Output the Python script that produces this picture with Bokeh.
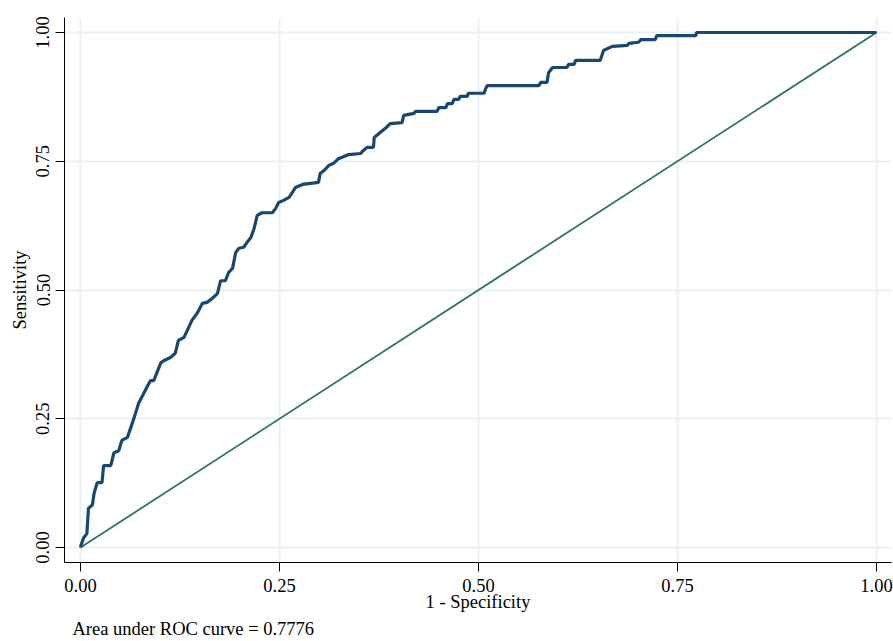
from bokeh.plotting import figure
from bokeh.models import Range1d, FixedTicker, NumeralTickFormatter, Title
from bokeh.embed import file_html
from bokeh.resources import INLINE

# ROC curve vertices (1 - specificity, sensitivity)
fpr = [0.000, 0.001, 0.004, 0.008, 0.010, 0.015, 0.017, 0.021, 0.027, 0.029,
       0.038, 0.042, 0.048, 0.052, 0.059, 0.065, 0.069, 0.073, 0.080, 0.084,
       0.088, 0.092, 0.101, 0.105, 0.113, 0.119, 0.123, 0.130, 0.134, 0.140,
       0.147, 0.153, 0.159, 0.165, 0.172, 0.176, 0.182, 0.186, 0.191, 0.195,
       0.199, 0.205, 0.209, 0.214, 0.218, 0.222, 0.228, 0.241, 0.245, 0.249,
       0.255, 0.262, 0.266, 0.270, 0.279, 0.299, 0.301, 0.306, 0.312, 0.318,
       0.324, 0.337, 0.352, 0.354, 0.360, 0.368, 0.369, 0.375, 0.383, 0.389,
       0.404, 0.406, 0.419, 0.421, 0.448, 0.450, 0.459, 0.461, 0.467, 0.469,
       0.475, 0.477, 0.486, 0.487, 0.507, 0.509, 0.511, 0.576, 0.578, 0.586,
       0.588, 0.593, 0.611, 0.613, 0.620, 0.622, 0.653, 0.657, 0.668, 0.687,
       0.689, 0.701, 0.704, 0.722, 0.724, 0.773, 0.774, 1.000]
tpr = [0.000, 0.006, 0.019, 0.027, 0.076, 0.083, 0.105, 0.126, 0.126, 0.159,
       0.159, 0.184, 0.188, 0.208, 0.214, 0.241, 0.260, 0.280, 0.301, 0.313,
       0.324, 0.324, 0.359, 0.363, 0.369, 0.377, 0.402, 0.408, 0.421, 0.441,
       0.456, 0.474, 0.476, 0.483, 0.493, 0.518, 0.518, 0.534, 0.542, 0.573,
       0.581, 0.583, 0.592, 0.602, 0.619, 0.645, 0.650, 0.650, 0.658, 0.670,
       0.674, 0.680, 0.689, 0.699, 0.705, 0.709, 0.726, 0.732, 0.742, 0.746,
       0.755, 0.763, 0.765, 0.769, 0.777, 0.777, 0.796, 0.804, 0.814, 0.823,
       0.825, 0.839, 0.843, 0.847, 0.847, 0.854, 0.854, 0.862, 0.862, 0.870,
       0.870, 0.876, 0.876, 0.882, 0.882, 0.891, 0.897, 0.897, 0.903, 0.903,
       0.922, 0.932, 0.932, 0.938, 0.938, 0.946, 0.946, 0.965, 0.973, 0.975,
       0.979, 0.981, 0.986, 0.986, 0.994, 0.994, 1.000, 1.000]

ref_x = [0.0, 1.0]
ref_y = [0.0, 1.0]
ticks = [0.0, 0.25, 0.5, 0.75, 1.0]
auc = 0.7776

FONT = "Liberation Serif"
FS = "18.5px"

p = figure(width=893, height=641, output_backend="svg", toolbar_location=None,
           x_range=Range1d(-0.0201, 1.0188), y_range=Range1d(-0.0291, 1.0291),
           min_border_left=64, min_border_right=2, min_border_top=17,
           min_border_bottom=79)
p.outline_line_color = None
p.background_fill_color = "white"
p.border_fill_color = "white"

for ax in (p.xaxis[0], p.yaxis[0]):
    ax.ticker = FixedTicker(ticks=ticks)
    ax.formatter = NumeralTickFormatter(format="0.00")
    ax.major_tick_in = 0
    ax.major_tick_out = 9
    ax.minor_tick_in = 0
    ax.minor_tick_out = 0
    ax.axis_line_color = "black"
    ax.major_tick_line_color = "black"
    ax.major_label_text_font = FONT
    ax.major_label_text_font_size = FS
    ax.major_label_text_color = "black"
    ax.axis_label_text_font = FONT
    ax.axis_label_text_font_size = FS
    ax.axis_label_text_font_style = "normal"
    ax.axis_label_text_color = "black"

p.xaxis.axis_label = "1 - Specificity"
p.yaxis.axis_label = "Sensitivity"
p.yaxis.major_label_orientation = "vertical"
p.xaxis.major_label_standoff = 7
p.xaxis.axis_label_standoff = -3
p.yaxis.major_label_standoff = 6
p.yaxis.axis_label_standoff = 4

p.xgrid.ticker = FixedTicker(ticks=ticks)
p.ygrid.ticker = FixedTicker(ticks=ticks)
p.grid.grid_line_color = "#e9f1f3"
p.grid.grid_line_width = 2

p.line(ref_x, ref_y, line_color="#2d7466", line_width=1.8)
p.line(fpr, tpr, line_color="#1a476f", line_width=3.2)

note = Title(text=f"Area under ROC curve = {auc:.4f}", align="left",
             text_font=FONT, text_font_size=FS, text_font_style="normal",
             text_color="black", offset=8, standoff=4)
p.add_layout(note, "below")

open("out.html", "w").write(file_html(p, INLINE))
